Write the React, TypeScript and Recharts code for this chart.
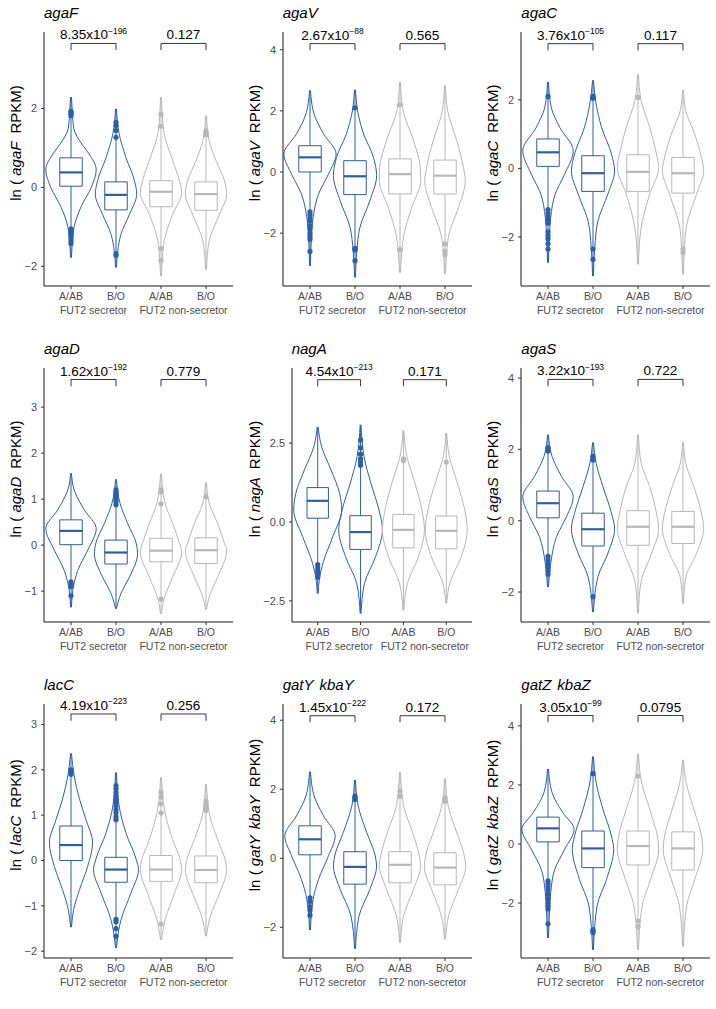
import React from "react";
import { ComposedChart, Area, Line, Scatter, XAxis, YAxis } from "recharts";

const genes = [["agaF"], ["agaV"], ["agaC"], ["agaD"], ["nagA"], ["agaS"], ["lacC"], ["gatY", "kbaY"], ["gatZ", "kbaZ"]];
const groups = ["A/AB", "B/O", "A/AB", "B/O"];
const groupTitles = ["FUT2 secretor", "FUT2 non-secretor"];

// p-value between secretor groups: mantissa, exponent
const pSecretor = [["8.35", "196"], ["2.67", "88"], ["3.76", "105"], ["1.62", "192"], ["4.54", "213"], ["3.22", "193"], ["4.19", "223"], ["1.45", "222"], ["3.05", "99"]];
const pNonSecretor = ["0.127", "0.565", "0.117", "0.779", "0.171", "0.722", "0.256", "0.172", "0.0795"];

const yDomains = [[-2.5, 3.94], [-3.73, 4.58], [-3.43, 3.98], [-1.67, 3.85], [-3.17, 4.88], [-2.84, 4.28], [-2.15, 3.45], [-2.89, 4.47], [-3.86, 4.74]];
const yTicks = [[-2, 0, 2], [-2, 0, 2, 4], [-2, 0, 2], [-1, 0, 1, 2, 3], [-2.5, 0, 2.5], [-2, 0, 2, 4], [-2, -1, 0, 1, 2, 3], [-2, 0, 2, 4], [-2, 0, 2, 4]];
const yDecimals = [0, 0, 0, 0, 1, 0, 0, 0, 0];
// bracket [bar, tip]
const brackets = [[3.65, 3.48], [4.2, 3.98], [3.64, 3.44], [3.6, 3.45], [4.51, 4.3], [3.96, 3.77], [3.23, 3.08], [4.13, 3.94], [4.35, 4.12]];

// [q1, median, q3] for each group
const boxStats = [
  [[0.03, 0.38, 0.75], [-0.57, -0.19, 0.14], [-0.49, -0.11, 0.17], [-0.58, -0.17, 0.14]],
  [[0, 0.48, 0.86], [-0.74, -0.14, 0.37], [-0.72, -0.07, 0.43], [-0.72, -0.12, 0.39]],
  [[0.06, 0.47, 0.86], [-0.67, -0.14, 0.37], [-0.67, -0.1, 0.4], [-0.72, -0.14, 0.32]],
  [[0.01, 0.31, 0.55], [-0.41, -0.16, 0.11], [-0.36, -0.12, 0.15], [-0.4, -0.11, 0.16]],
  [[0.12, 0.67, 1.09], [-0.87, -0.32, 0.2], [-0.82, -0.25, 0.24], [-0.85, -0.28, 0.19]],
  [[0.08, 0.49, 0.83], [-0.71, -0.24, 0.21], [-0.69, -0.17, 0.28], [-0.64, -0.17, 0.26]],
  [[0, 0.34, 0.76], [-0.48, -0.2, 0.07], [-0.46, -0.2, 0.11], [-0.49, -0.21, 0.1]],
  [[0.1, 0.55, 0.94], [-0.75, -0.25, 0.19], [-0.71, -0.19, 0.19], [-0.77, -0.27, 0.16]],
  [[0.07, 0.53, 0.91], [-0.8, -0.15, 0.44], [-0.71, -0.07, 0.44], [-0.88, -0.15, 0.41]],
];

// violin outline: [value, half width] from bottom to top
const violins = [
  [
    [[-1.78, 0.01], [-1.4, 0.03], [-1.0, 0.07], [-0.5, 0.22], [0, 0.45], [0.45, 0.56], [0.85, 0.4], [1.1, 0.24], [1.5, 0.06], [1.9, 0.03], [2.29, 0.01]],
    [[-2.03, 0.01], [-1.6, 0.04], [-1.19, 0.11], [-0.68, 0.3], [-0.17, 0.46], [0.17, 0.41], [0.76, 0.22], [1.36, 0.07], [1.99, 0.01]],
    [[-2.25, 0.01], [-1.8, 0.03], [-1.36, 0.07], [-0.68, 0.26], [-0.13, 0.46], [0.17, 0.41], [0.68, 0.26], [1.36, 0.07], [1.8, 0.03], [2.29, 0.01]],
    [[-2.08, 0.01], [-1.36, 0.07], [-0.68, 0.3], [-0.17, 0.46], [0.17, 0.41], [0.68, 0.22], [1.19, 0.07], [1.82, 0.01]],
  ],
  [
    [[-3.07, 0.01], [-2.2, 0.03], [-1.49, 0.07], [-0.72, 0.19], [-0.07, 0.41], [0.59, 0.58], [1.25, 0.3], [1.9, 0.09], [2.67, 0.01]],
    [[-3.45, 0.01], [-2.6, 0.04], [-1.81, 0.11], [-0.94, 0.33], [-0.12, 0.48], [0.48, 0.41], [1.25, 0.19], [1.9, 0.07], [2.69, 0.01]],
    [[-3.29, 0.01], [-2.6, 0.04], [-2.03, 0.09], [-1.16, 0.26], [-0.28, 0.46], [0.15, 0.45], [1.03, 0.3], [2.0, 0.07], [2.94, 0.01]],
    [[-3.34, 0.01], [-2.6, 0.04], [-2.03, 0.09], [-1.16, 0.3], [-0.28, 0.45], [0.15, 0.41], [1.03, 0.26], [2.0, 0.06], [2.83, 0.01]],
  ],
  [
    [[-2.75, 0.01], [-2.0, 0.03], [-1.43, 0.06], [-0.75, 0.16], [-0.17, 0.37], [0.52, 0.56], [1.2, 0.26], [1.79, 0.07], [2.52, 0.01]],
    [[-3.14, 0.01], [-2.3, 0.04], [-1.53, 0.11], [-0.75, 0.33], [-0.07, 0.48], [0.42, 0.41], [1.2, 0.19], [1.88, 0.07], [2.57, 0.01]],
    [[-2.8, 0.01], [-2.2, 0.03], [-1.73, 0.07], [-0.75, 0.26], [0.03, 0.46], [0.42, 0.41], [1.2, 0.26], [1.98, 0.07], [2.74, 0.01]],
    [[-3.09, 0.01], [-2.4, 0.03], [-1.73, 0.07], [-0.75, 0.3], [-0.07, 0.46], [0.32, 0.41], [1.0, 0.26], [1.69, 0.06], [2.29, 0.01]],
  ],
  [
    [[-1.35, 0.01], [-0.98, 0.04], [-0.55, 0.15], [-0.11, 0.37], [0.36, 0.56], [0.76, 0.3], [1.2, 0.07], [1.56, 0.01]],
    [[-1.38, 0.01], [-1.05, 0.11], [-0.69, 0.3], [-0.18, 0.48], [0.04, 0.45], [0.47, 0.26], [0.91, 0.09], [1.43, 0.01]],
    [[-1.49, 0.01], [-1.2, 0.06], [-0.69, 0.26], [-0.15, 0.46], [0.04, 0.41], [0.47, 0.26], [0.91, 0.09], [1.55, 0.01]],
    [[-1.4, 0.01], [-1.13, 0.07], [-0.69, 0.26], [-0.11, 0.46], [0.04, 0.41], [0.47, 0.26], [0.91, 0.07], [1.36, 0.01]],
  ],
  [
    [[-2.27, 0.01], [-1.8, 0.04], [-1.31, 0.12], [-0.47, 0.35], [0.38, 0.56], [0.91, 0.51], [1.65, 0.31], [2.39, 0.09], [3.01, 0.01]],
    [[-2.9, 0.01], [-1.95, 0.09], [-1.1, 0.35], [-0.25, 0.51], [0.38, 0.43], [1.23, 0.24], [2.08, 0.08], [3.08, 0.01]],
    [[-2.8, 0.01], [-1.95, 0.09], [-1.1, 0.35], [-0.25, 0.49], [0.38, 0.43], [1.23, 0.27], [2.08, 0.08], [2.9, 0.01]],
    [[-2.58, 0.01], [-1.9, 0.09], [-1.1, 0.35], [-0.25, 0.49], [0.38, 0.43], [1.23, 0.26], [2.08, 0.07], [2.82, 0.01]],
  ],
  [
    [[-1.86, 0.01], [-1.2, 0.06], [-0.45, 0.19], [0.11, 0.41], [0.67, 0.56], [1.24, 0.3], [1.8, 0.09], [2.41, 0.01]],
    [[-2.56, 0.01], [-1.57, 0.11], [-0.92, 0.33], [-0.22, 0.48], [0.21, 0.41], [0.96, 0.22], [1.61, 0.07], [2.19, 0.01]],
    [[-2.6, 0.01], [-1.76, 0.06], [-0.92, 0.3], [-0.22, 0.46], [0.21, 0.41], [0.96, 0.26], [1.61, 0.07], [2.41, 0.01]],
    [[-2.32, 0.01], [-1.6, 0.06], [-0.92, 0.3], [-0.22, 0.46], [0.21, 0.41], [0.96, 0.24], [1.61, 0.06], [2.2, 0.01]],
  ],
  [
    [[-1.47, 0.01], [-1.08, 0.06], [-0.64, 0.19], [-0.13, 0.37], [0.39, 0.48], [0.91, 0.33], [1.35, 0.19], [1.87, 0.07], [2.36, 0.01]],
    [[-1.93, 0.01], [-1.31, 0.11], [-0.72, 0.33], [-0.2, 0.5], [0.02, 0.45], [0.61, 0.22], [1.2, 0.07], [1.94, 0.01]],
    [[-1.75, 0.01], [-1.31, 0.09], [-0.72, 0.3], [-0.2, 0.46], [0.0, 0.43], [0.46, 0.26], [1.05, 0.09], [1.83, 0.01]],
    [[-1.67, 0.01], [-1.25, 0.09], [-0.72, 0.3], [-0.2, 0.46], [0.0, 0.43], [0.46, 0.26], [1.0, 0.08], [1.68, 0.01]],
  ],
  [
    [[-2.08, 0.01], [-1.19, 0.07], [-0.61, 0.19], [0.07, 0.41], [0.65, 0.56], [1.23, 0.3], [1.81, 0.09], [2.51, 0.01]],
    [[-2.62, 0.01], [-1.67, 0.09], [-0.9, 0.33], [-0.22, 0.48], [0.07, 0.45], [0.75, 0.26], [1.52, 0.07], [2.27, 0.01]],
    [[-2.45, 0.01], [-1.67, 0.08], [-0.9, 0.3], [-0.2, 0.46], [0.07, 0.43], [0.75, 0.28], [1.52, 0.08], [2.49, 0.01]],
    [[-2.35, 0.01], [-1.67, 0.08], [-0.9, 0.3], [-0.25, 0.46], [0.07, 0.43], [0.75, 0.26], [1.52, 0.07], [2.31, 0.01]],
  ],
  [
    [[-3.18, 0.01], [-2.4, 0.03], [-1.65, 0.06], [-0.86, 0.15], [-0.18, 0.37], [0.5, 0.58], [1.06, 0.33], [1.74, 0.09], [2.54, 0.01]],
    [[-3.58, 0.01], [-2.1, 0.09], [-1.2, 0.3], [-0.18, 0.46], [0.27, 0.41], [1.18, 0.22], [2.08, 0.07], [2.96, 0.01]],
    [[-3.58, 0.01], [-2.1, 0.09], [-1.2, 0.28], [-0.18, 0.46], [0.27, 0.43], [1.18, 0.26], [2.08, 0.08], [3.05, 0.01]],
    [[-3.47, 0.01], [-2.1, 0.08], [-1.2, 0.26], [-0.18, 0.44], [0.27, 0.41], [1.18, 0.24], [2.08, 0.07], [2.85, 0.01]],
  ],
];

const outliers = [
  [[1.82, 1.86, 1.9, 1.93, -1.05, -1.1, -1.15, -1.2, -1.28, -1.35, -1.42], [1.65, 1.57, 1.44, 1.27, -1.68, -1.72], [1.85, 1.55, -1.55, -1.85], [1.43, 1.38, 1.33]],
  [[-1.3, -1.4, -1.5, -1.6, -1.75, -1.85, -2.0, -2.1, -2.2, -2.6], [2.1, -2.5, -2.55, -2.9], [2.2, -2.55], [-2.35, -2.6, -2.7]],
  [[2.1, -1.2, -1.3, -1.4, -1.5, -1.6, -1.85, -1.95, -2.05, -2.2, -2.35], [2.05, 2.1, -2.35, -2.65], [2.07], [-2.35, -2.45]],
  [[-0.8, -0.85, -0.9, -1.1], [0.88, 0.95, 1.0, 1.05, 1.1, 1.15, 1.2], [1.2, 1.15, 0.9, -1.17], [1.05]],
  [[-1.35, -1.45, -1.55, -1.65, -1.75], [2.6, 2.35, 2.15, 2.0, 1.9, 1.8], [1.95, 2.0], [1.9]],
  [[2.05, 1.95, -1.0, -1.1, -1.2, -1.3, -1.4, -1.5], [1.8, 1.7, -2.13], [], []],
  [[2.0, 1.95, 1.9], [0.9, 0.97, 1.05, 1.12, 1.2, 1.28, 1.35, 1.42, 1.5, 1.58, 1.65, -1.3, -1.35, -1.5, -1.67], [1.5, 1.4, 1.25, 1.05, -1.4], [1.3, 1.25, 1.2, 1.15, 1.1]],
  [[-1.15, -1.25, -1.4, -1.5, -1.65], [1.7, 1.75, 1.8], [1.95, 1.8], [1.75, 1.65]],
  [[-1.25, -1.35, -1.45, -1.55, -1.7, -1.85, -2.0, -2.1, -2.2, -2.7], [2.38, -2.9, -2.95, -3.0], [2.3, -2.6, -2.8], []],
];

const BLUE = "#2c5fa8";
const GRAY = "#b8b8b8";
const FONT = "'Liberation Sans', Arial, Helvetica, sans-serif";
const PANEL_W = 238.67;
const PANEL_H = 336;
const BOX_HALF = 0.25;

const fmt = (v: number, d: number) => (v < 0 ? "\u2212" : "") + Math.abs(v).toFixed(d);

function GeneName({ parts }: { parts: string[] }) {
  return (
    <>
      {parts.map((p, k) => (
        <span key={k} style={{ fontStyle: "italic", marginRight: k < parts.length - 1 ? 6 : 0 }}>
          {p}
        </span>
      ))}
    </>
  );
}

function Panel({ i }: { i: number }) {
  const col = i % 3;
  const row = Math.floor(i / 3);
  const yAxisW = yDecimals[i] > 0 ? 53 : 44;
  const [bar, tip] = brackets[i];

  return (
    <div style={{ position: "absolute", left: col * PANEL_W, top: row * PANEL_H, width: 238, height: PANEL_H }}>
      <div style={{ position: "absolute", left: yAxisW, top: 4, fontSize: 15, fontFamily: FONT, color: "#000", whiteSpace: "nowrap" }}>
        <GeneName parts={genes[i]} />
      </div>
      <div
        style={{
          position: "absolute",
          left: 15,
          top: 143,
          transform: "translate(-50%, -50%) rotate(-90deg)",
          fontSize: 15,
          fontFamily: FONT,
          color: "#000",
          whiteSpace: "nowrap",
        }}
      >
        ln ( <GeneName parts={genes[i]} />
        <span style={{ marginLeft: 8 }}>RPKM)</span>
      </div>
      <ComposedChart layout="vertical" width={238} height={PANEL_H} margin={{ top: 32, right: 5, bottom: 18, left: 0 }}>
        <XAxis
          type="number"
          dataKey="x"
          domain={[0.4, 4.6]}
          ticks={[1, 2, 3, 4]}
          tickFormatter={(v: number) => groups[v - 1]}
          height={16}
          tickSize={3}
          tickMargin={4}
          axisLine={{ stroke: "#1a1a1a", strokeWidth: 1 }}
          tickLine={{ stroke: "#333" }}
          tick={{ fill: "#4d4d4d", fontSize: 10.5, fontFamily: FONT }}
        />
        <XAxis
          xAxisId="grp"
          type="number"
          dataKey="x"
          domain={[0.4, 4.6]}
          ticks={[1.5, 3.5]}
          allowDataOverflow
          tickFormatter={(v: number) => groupTitles[v < 2.5 ? 0 : 1]}
          height={16}
          tickSize={0}
          tickMargin={5}
          axisLine={false}
          tickLine={false}
          tick={{ fill: "#4d4d4d", fontSize: 10.5, fontFamily: FONT }}
        />
        <YAxis
          type="number"
          dataKey="y"
          domain={yDomains[i]}
          ticks={yTicks[i]}
          reversed
          width={yAxisW}
          tickFormatter={(v: number) => fmt(v, yDecimals[i])}
          tickSize={3}
          tickMargin={4}
          axisLine={{ stroke: "#1a1a1a", strokeWidth: 1 }}
          tickLine={{ stroke: "#333" }}
          tick={{ fill: "#4d4d4d", fontSize: 11, fontFamily: FONT }}
        />

        {violins[i].map((prof, g) => (
          <Area
            key={`v${g}`}
            data={prof.map(([y, w]) => ({ y, v: [g + 1 - w, g + 1 + w] }))}
            dataKey="v"
            type="monotone"
            stroke={g < 2 ? BLUE : GRAY}
            strokeWidth={1}
            fill="none"
            dot={false}
            activeDot={false}
            isAnimationActive={false}
          />
        ))}

        {boxStats[i].map(([q1, med, q3], g) => {
          const c = g + 1;
          const color = g < 2 ? BLUE : GRAY;
          const prof = violins[i][g];
          const common = { dataKey: "x", type: "linear" as const, stroke: color, dot: false, activeDot: false, isAnimationActive: false };
          return [
            <Line key={`wl${g}`} {...common} strokeWidth={1} data={[{ x: c, y: prof[0][0] }, { x: c, y: q1 }]} />,
            <Line key={`wh${g}`} {...common} strokeWidth={1} data={[{ x: c, y: q3 }, { x: c, y: prof[prof.length - 1][0] }]} />,
            <Line
              key={`b${g}`}
              {...common}
              strokeWidth={1}
              data={[
                { x: c - BOX_HALF, y: q1 },
                { x: c + BOX_HALF, y: q1 },
                { x: c + BOX_HALF, y: q3 },
                { x: c - BOX_HALF, y: q3 },
                { x: c - BOX_HALF, y: q1 },
              ]}
            />,
            <Line key={`m${g}`} {...common} strokeWidth={2.2} data={[{ x: c - BOX_HALF, y: med }, { x: c + BOX_HALF, y: med }]} />,
          ];
        })}

        {outliers[i].map((pts, g) =>
          pts.length ? (
            <Scatter
              key={`o${g}`}
              data={pts.map((y) => ({ x: g + 1, y }))}
              isAnimationActive={false}
              shape={(p: any) => <circle cx={p.cx} cy={p.cy} r={2.6} fill={g < 2 ? BLUE : GRAY} />}
            />
          ) : null
        )}

        {[0, 1].map((k) => (
          <Line
            key={`br${k}`}
            dataKey="x"
            type="linear"
            stroke="#222"
            strokeWidth={0.9}
            dot={false}
            activeDot={false}
            isAnimationActive={false}
            data={[
              { x: 2 * k + 1, y: tip },
              { x: 2 * k + 1, y: bar },
              { x: 2 * k + 2, y: bar },
              { x: 2 * k + 2, y: tip },
            ]}
          />
        ))}
        <Scatter
          data={[{ x: 1.5, y: bar }]}
          isAnimationActive={false}
          shape={(p: any) => (
            <text x={p.cx} y={p.cy - 4} textAnchor="middle" fontSize={13.5} fontFamily={FONT} fill="#000">
              <tspan>{pSecretor[i][0]}x10</tspan>
              <tspan dy={-5.5} fontSize={8.5}>
                {"\u2212" + pSecretor[i][1]}
              </tspan>
            </text>
          )}
        />
        <Scatter
          data={[{ x: 3.5, y: bar }]}
          isAnimationActive={false}
          shape={(p: any) => (
            <text x={p.cx} y={p.cy - 4} textAnchor="middle" fontSize={13.5} fontFamily={FONT} fill="#000">
              {pNonSecretor[i]}
            </text>
          )}
        />
      </ComposedChart>
    </div>
  );
}

export default function App() {
  return (
    <div style={{ position: "absolute", left: 0, top: 0, width: 716, height: 1009, background: "#fff", overflow: "hidden" }}>
      {genes.map((_, i) => (
        <Panel key={i} i={i} />
      ))}
    </div>
  );
}
